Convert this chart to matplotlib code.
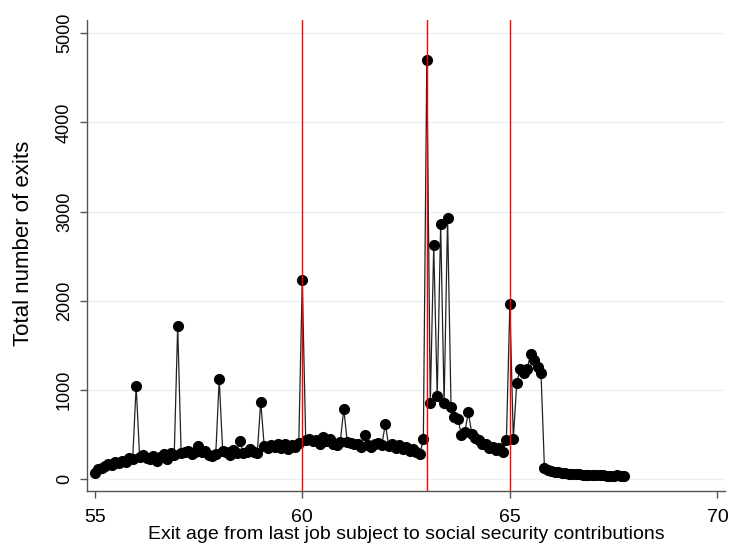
import numpy as np
import matplotlib
matplotlib.use("Agg")
import matplotlib.pyplot as plt

plt.rcParams['font.family'] = ['Liberation Sans', 'DejaVu Sans']

# monthly exits, starting at age 55.0, one value per month
exits_55 = [70, 110, 130, 150, 170, 160, 190, 180, 200, 190, 240, 230]
exits_56 = [1050, 250, 270, 240, 230, 260, 200, 250, 280, 230, 290, 270]
exits_57 = [1720, 290, 300, 320, 280, 310, 370, 300, 320, 270, 260, 280]
exits_58 = [1120, 320, 300, 270, 330, 290, 430, 290, 310, 340, 300, 290]
exits_59 = [870, 370, 350, 380, 360, 400, 350, 390, 340, 380, 360, 410]
exits_60 = [2230, 440, 450, 430, 440, 400, 470, 430, 450, 400, 380, 420]
exits_61 = [790, 420, 410, 390, 400, 360, 490, 380, 360, 400, 410, 380]
exits_62 = [620, 370, 390, 350, 380, 340, 360, 320, 340, 310, 280, 450]
exits_63 = [4700, 850, 2620, 930, 2860, 850, 2930, 810, 700, 680, 490, 530]
exits_64 = [750, 510, 460, 440, 390, 400, 350, 360, 330, 350, 310, 440]
exits_65 = [1960, 450, 1080, 1240, 1190, 1240, 1400, 1340, 1260, 1190, 120, 100]
exits_66 = [90, 80, 75, 70, 65, 60, 60, 55, 55, 50, 50, 50]
exits_67 = [45, 45, 50, 45, 40, 40, 40, 45, 35, 35]

exits = np.array(exits_55 + exits_56 + exits_57 + exits_58 + exits_59 + exits_60
                 + exits_61 + exits_62 + exits_63 + exits_64 + exits_65
                 + exits_66 + exits_67)
ages = 55 + np.arange(len(exits)) / 12.0

ref_ages = [60, 63, 65]

fig = plt.figure(figsize=(7.29, 5.44), dpi=100)
ax = fig.add_axes([0.119, 0.097, 0.876, 0.866])

ax.grid(axis='y', color='#eaf0f2', lw=1)
ax.set_axisbelow(True)
ax.plot(ages, exits, color='#222222', lw=0.9, marker='o', ms=7,
        mfc='black', mec='black', zorder=3)
for a in ref_ages:
    ax.axvline(a, color='red', lw=1, zorder=4)

ax.set_xlim(54.81, 70.19)
ax.set_ylim(-135, 5146)
ax.set_xticks([55, 60, 65, 70])
ax.set_yticks([0, 1000, 2000, 3000, 4000, 5000])
ax.tick_params(axis='both', direction='out', length=5, width=1,
               color='#555555')
ax.tick_params(axis='x', labelsize=14, pad=8)
ax.tick_params(axis='y', labelsize=13, pad=5)
plt.setp(ax.get_yticklabels(), rotation=90, va='center')

for s in ['top', 'right']:
    ax.spines[s].set_visible(False)
for s in ['left', 'bottom']:
    ax.spines[s].set_color('#555555')
    ax.spines[s].set_linewidth(1)

ax.set_xlabel('Exit age from last job subject to social security contributions',
              fontsize=14, labelpad=0)
ax.set_ylabel('Total number of exits', fontsize=16)
ax.yaxis.set_label_coords(-0.082, 0.527)

fig.savefig('out.png', dpi=100)
